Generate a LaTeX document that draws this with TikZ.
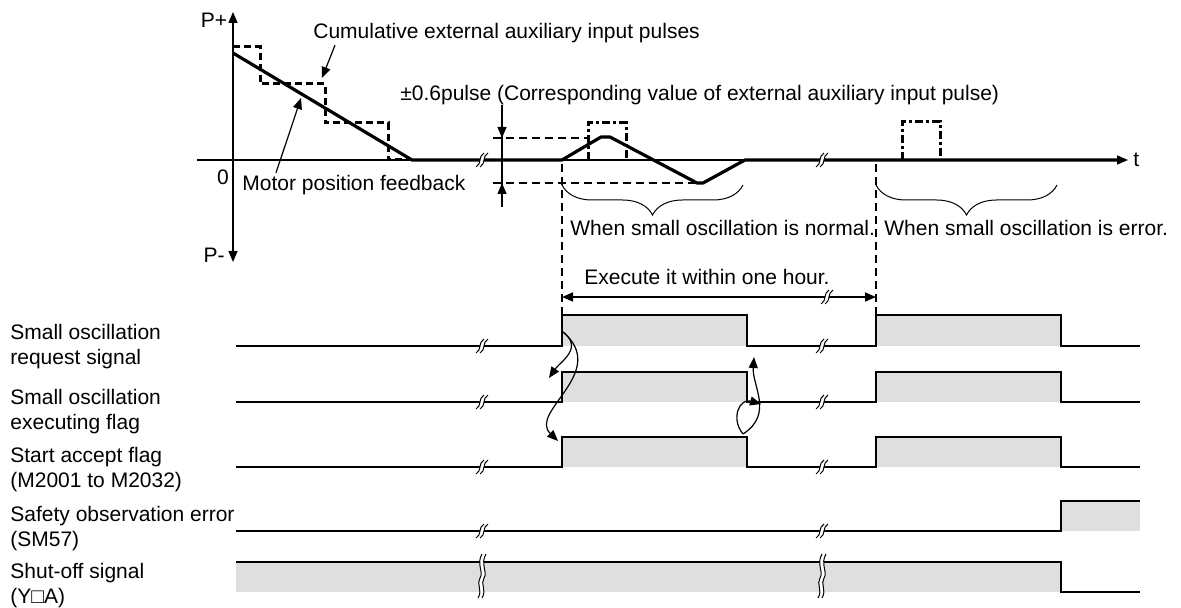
\documentclass[tikz,border=0pt]{standalone}
\usepackage{fontspec}
\setmainfont{Liberation Sans}
\usetikzlibrary{arrows.meta,decorations.pathreplacing}
\definecolor{siggray}{RGB}{223,223,223}

\begin{document}
\begin{tikzpicture}[
        x=0.5pt, y=-0.5pt,
        >={Triangle[length=5.5pt,width=4.5pt]},
        txt/.style={font=\fontsize{10.5}{12.5}\selectfont, inner sep=1pt},
        rowlbl/.style={txt, anchor=west, align=left},
        wave/.style={line width=1pt},
        hi/.style={fill=siggray},
        feed/.style={line width=1.6pt, line join=round},
        cumpulse/.style={line width=1.5pt, dash pattern=on 3.5pt off 2pt},
        auxpulse/.style={line width=1.5pt, dash pattern=on 4pt off 1.5pt on 1.5pt off 1.5pt},
        guide/.style={line width=0.6pt, dash pattern=on 4pt off 2.5pt},
        curl/.style={->, line width=0.6pt},
        brk/.pic={
            \fill[white] (-6,7) .. controls (0,4) and (-4,-4) .. (2,-7) -- (6,-7) .. controls (0,-4) and (4,4) .. (-2,7) -- cycle;
            \draw[line width=0.5pt] (-6,7) .. controls (0,4) and (-4,-4) .. (2,-7);
            \draw[line width=0.5pt] (-2,7) .. controls (4,4) and (0,-4) .. (6,-7);
        },
        tallbrk/.pic={
            \fill[white] (0,-22) .. controls (-6,-12) and (2,-4) .. (-2,2) .. controls (-6,8) and (1,14) .. (-4,22)
                -- (0,22) .. controls (5,14) and (-2,8) .. (2,2) .. controls (6,-4) and (-2,-12) .. (4,-22) -- cycle;
            \draw[line width=0.5pt] (0,-22) .. controls (-6,-12) and (2,-4) .. (-2,2) .. controls (-6,8) and (1,14) .. (-4,22);
            \draw[line width=0.5pt] (4,-22) .. controls (-2,-12) and (6,-4) .. (2,2) .. controls (-2,8) and (5,14) .. (0,22);
        }
    ]
    \useasboundingbox (0,0) rectangle (1181,608);

    % Position graph
    \draw[<->, line width=0.75pt] (233,262) -- (233,12);
    \draw[->, line width=0.75pt] (197,160) -- (1128,160);
    \node[txt] (pplus) at (214,20) {P+};
    \node[txt] (pminus) at (214,255) {P-};
    \node[txt] (zero) at (223,177) {0};
    \node[txt, anchor=west] (tlbl) at (1131,160) {t};

    \draw[cumpulse] (233,47) -- (260,47) -- (260,84) -- (325,84) -- (325,123) -- (388,123) -- (388,160) -- (412,160);
    \draw[feed] (233,53) -- (412,160) -- (562,160) -- (601,137) -- (610,137) -- (697,183) -- (703,183) -- (745,160) -- (1118,160);
    \draw[auxpulse] (588,160) -- (588,123) -- (626,123) -- (626,160);
    \draw[auxpulse] (902,160) -- (902,122) -- (940,122) -- (940,160);
    \pic at (482,160) {brk};
    \pic at (822,160) {brk};

    \node[txt, anchor=west] (cumlbl) at (311,33) {Cumulative external auxiliary input pulses};
    \coordinate (cumtip) at (322,78);
    \draw[->, line width=0.6pt] ([xshift=12pt]cumlbl.south west) -- (cumtip);
    \node[txt, anchor=west] (motorlbl) at (240,185) {Motor position feedback};
    \coordinate (motortip) at (301,98);
    \draw[->, line width=0.6pt] ([xshift=18pt]motorlbl.north west) -- (motortip);

    % +-0.6 pulse band
    \node[txt, anchor=west] (pmlbl) at (398,95) {±0.6pulse (Corresponding value of external auxiliary input pulse)};
    \coordinate (pmtop) at (502,105);
    \coordinate (pmup) at (502,138);
    \coordinate (pmlow) at (502,183);
    \coordinate (pmbot) at (502,207);
    \draw[line width=0.6pt] (pmtop) -- (pmbot);
    \draw[->, line width=0.6pt] (pmtop) -- (pmup);
    \draw[->, line width=0.6pt] (pmbot) -- (pmlow);
    \draw[guide] (493,138) -- (588,138);
    \draw[guide] (493,183) -- (700,183);

    % Windows
    \draw[guide] (562,164) -- (562,314);
    \draw[guide] (876,164) -- (876,314);
    \draw[decorate, decoration={brace, mirror, amplitude=15pt}, line width=0.5pt] (562,185) -- (743,185);
    \draw[decorate, decoration={brace, mirror, amplitude=15pt}, line width=0.5pt] (876,185) -- (1057,185);
    \node[txt, anchor=west] (normlbl) at (568,228) {When small oscillation is normal.};
    \node[txt, anchor=west] (errlbl) at (882,228) {When small oscillation is error.};

    \node[txt] (execlbl) at (707,277) {Execute it within one hour.};
    \coordinate (exl) at (562,297);
    \coordinate (exr) at (876,297);
    \draw[<->, line width=0.8pt] (exl) -- (exr);
    \pic at (827,297) {brk};

    % Signal labels
    \node[rowlbl] (reqlbl) at (8,347) {Small oscillation\\request signal};
    \node[rowlbl] (execflag) at (8,412) {Small oscillation\\executing flag};
    \node[rowlbl] (acclbl) at (8,470) {Start accept flag\\(M2001 to M2032)};
    \node[rowlbl] (errsig) at (8,529) {Safety observation error\\(SM57)};
    \node[rowlbl] (offlbl) at (8,586) {Shut-off signal\\(Y□A)};

    % Small oscillation request signal
    \fill[hi] (562,315) rectangle (747,346);
    \fill[hi] (876,315) rectangle (1061,346);
    \draw[wave] (236,346) -- (562,346) -- (562,315) -- (747,315) -- (747,346) -- (876,346) -- (876,315) -- (1061,315) -- (1061,346) -- (1140,346);
    \pic at (482,346) {brk};
    \pic at (822,346) {brk};

    % Small oscillation executing flag
    \fill[hi] (562,372) rectangle (747,402);
    \fill[hi] (876,372) rectangle (1061,402);
    \draw[wave] (236,402) -- (562,402) -- (562,372) -- (747,372) -- (747,402) -- (876,402) -- (876,372) -- (1061,372) -- (1061,402) -- (1140,402);
    \pic at (482,402) {brk};
    \pic at (822,402) {brk};

    % Start accept flag
    \fill[hi] (562,437) rectangle (747,467);
    \fill[hi] (876,437) rectangle (1061,467);
    \draw[wave] (236,467) -- (562,467) -- (562,437) -- (747,437) -- (747,467) -- (876,467) -- (876,437) -- (1061,437) -- (1061,467) -- (1140,467);
    \pic at (482,467) {brk};
    \pic at (822,467) {brk};

    % Safety observation error
    \fill[hi] (1061,501) rectangle (1140,531);
    \draw[wave] (236,531) -- (1061,531) -- (1061,501) -- (1140,501);
    \pic at (482,531) {brk};
    \pic at (822,531) {brk};

    % Shut-off signal
    \fill[hi] (236,562) rectangle (1061,592);
    \draw[wave] (236,562) -- (1061,562) -- (1061,592) -- (1140,592);
    \pic at (482,576) {tallbrk};
    \pic at (822,576) {tallbrk};

    % Edge dependencies
    \coordinate (reqrise) at (563,332);
    \coordinate (acctip1) at (549,378);
    \coordinate (acctip2) at (558,441);
    \coordinate (accfall) at (743,434);
    \coordinate (exectip1) at (761,404);
    \coordinate (exectip2) at (754,357);
    \draw[curl] (reqrise) .. controls (584,348) and (560,362) .. (acctip1);
    \draw[curl] (reqrise) .. controls (610,372) and (528,412) .. (acctip2);
    \draw[curl] (accfall) .. controls (730,418) and (740,398) .. (exectip1);
    \draw[curl] (accfall) .. controls (774,414) and (752,386) .. (exectip2);
\end{tikzpicture}
\end{document}
